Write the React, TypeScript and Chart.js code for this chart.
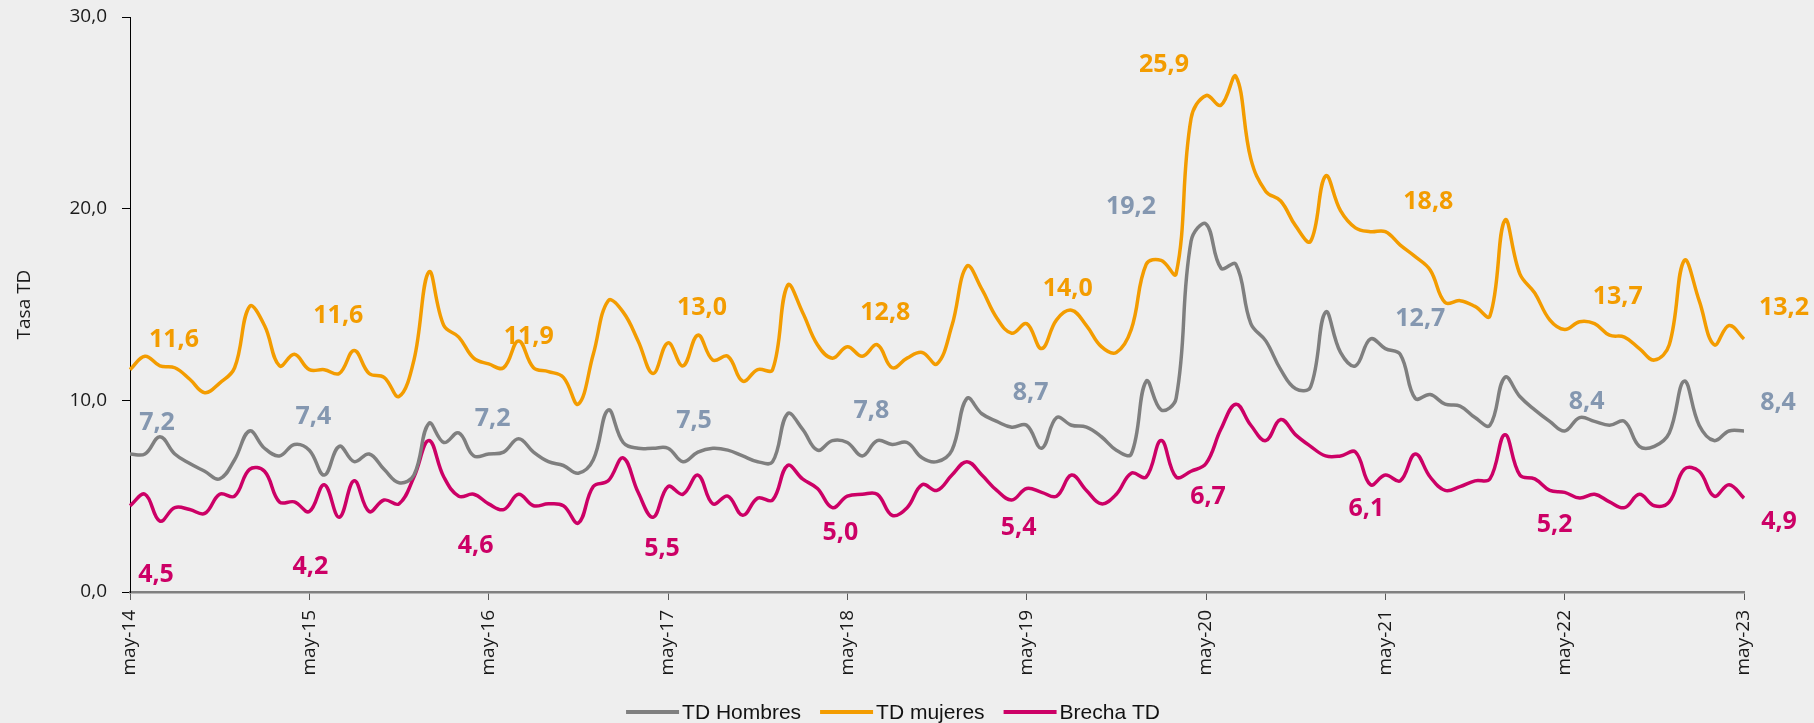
import React, { useEffect, useRef } from "react";
import { Chart, registerables } from "chart.js";

Chart.register(...registerables);

// ---------- data ----------
const MONTH_NAMES = ["ene", "feb", "mar", "abr", "may", "jun", "jul", "ago", "sep", "oct", "nov", "dic"];
const FIRST_YEAR = 2014;
const FIRST_MONTH_INDEX = 4; // may
const N_MONTHS = 109; // may-14 .. may-23

const CATEGORIES: string[] = Array.from({ length: N_MONTHS }, (_, i) => {
  const m = (FIRST_MONTH_INDEX + i) % 12;
  const y = FIRST_YEAR + Math.floor((FIRST_MONTH_INDEX + i) / 12);
  return `${MONTH_NAMES[m]}-${String(y).slice(2)}`;
});

const TD_HOMBRES = [
  7.2, 7.2, 8.1, 7.2, 6.7, 6.3, 5.9, 6.9, 8.4, 7.5, 7.1, 7.7,
  7.4, 6.1, 7.6, 6.8, 7.2, 6.4, 5.7, 6.1, 8.8, 7.8, 8.3, 7.1,
  7.2, 7.3, 8.0, 7.3, 6.8, 6.6, 6.2, 6.9, 9.5, 7.8, 7.5, 7.5,
  7.5, 6.8, 7.3, 7.5, 7.4, 7.1, 6.8, 6.8, 9.3, 8.5, 7.4, 7.9,
  7.8, 7.1, 7.9, 7.7, 7.8, 7.0, 6.8, 7.4, 10.1, 9.3, 8.9, 8.6,
  8.7, 7.5, 9.1, 8.7, 8.6, 8.1, 7.4, 7.2, 11.0, 9.5, 10.1, 18.3,
  19.2, 16.9, 17.1, 14.0, 13.1, 11.6, 10.6, 10.7, 14.6, 12.5, 11.8, 13.2,
  12.7, 12.4, 10.1, 10.3, 9.8, 9.7, 9.1, 8.7, 11.2, 10.2, 9.5, 8.9,
  8.4, 9.1, 8.9, 8.7, 8.9, 7.6, 7.6, 8.3, 11.0, 8.7, 7.9, 8.4,
  8.4,
];

const TD_MUJERES = [
  11.6, 12.3, 11.8, 11.7, 11.1, 10.4, 10.9, 11.7, 14.9, 13.9, 11.8, 12.4,
  11.6, 11.6, 11.4, 12.6, 11.4, 11.2, 10.2, 12.1, 16.7, 13.9, 13.3, 12.2,
  11.9, 11.7, 13.1, 11.7, 11.5, 11.2, 9.8, 12.4, 15.2, 14.6, 13.1, 11.4,
  13.0, 11.8, 13.4, 12.1, 12.3, 11.0, 11.6, 11.6, 16.0, 14.6, 12.9, 12.2,
  12.8, 12.3, 12.9, 11.7, 12.2, 12.5, 11.9, 13.9, 17.0, 15.8, 14.3, 13.5,
  14.0, 12.7, 14.2, 14.7, 13.9, 12.8, 12.5, 13.7, 17.1, 17.3, 16.6, 24.7,
  25.9, 25.4, 26.9, 22.6, 20.9, 20.4, 19.1, 18.3, 21.7, 19.9, 19.0, 18.8,
  18.8, 18.1, 17.5, 16.8, 15.1, 15.2, 14.9, 14.4, 19.4, 16.6, 15.6, 14.2,
  13.7, 14.1, 14.0, 13.4, 13.3, 12.7, 12.1, 12.9, 17.3, 15.2, 12.9, 13.9,
  13.2,
];

const BRECHA_TD = [
  4.5, 5.1, 3.7, 4.4, 4.3, 4.1, 5.1, 5.0, 6.4, 6.3, 4.7, 4.7,
  4.2, 5.6, 3.9, 5.8, 4.2, 4.8, 4.6, 6.0, 7.9, 6.0, 5.0, 5.1,
  4.6, 4.3, 5.1, 4.5, 4.6, 4.5, 3.6, 5.5, 5.8, 7.0, 5.2, 3.9,
  5.5, 5.1, 6.1, 4.6, 5.0, 4.0, 4.9, 4.8, 6.6, 5.9, 5.4, 4.4,
  5.0, 5.1, 5.1, 4.0, 4.4, 5.6, 5.3, 6.1, 6.8, 6.1, 5.3, 4.8,
  5.4, 5.2, 5.0, 6.1, 5.3, 4.6, 5.1, 6.2, 6.0, 7.9, 6.0, 6.3,
  6.7, 8.5, 9.8, 8.7, 7.9, 9.0, 8.2, 7.6, 7.1, 7.1, 7.3, 5.6,
  6.1, 5.8, 7.2, 6.0, 5.3, 5.5, 5.8, 5.9, 8.2, 6.1, 5.9, 5.3,
  5.2, 4.9, 5.1, 4.7, 4.4, 5.1, 4.5, 4.7, 6.4, 6.3, 5.0, 5.6,
  4.9,
];

const Y_TICKS = [0, 10, 20, 30];
const LABELED_INDEXES = [0, 12, 24, 36, 48, 60, 72, 84, 96, 108];

// ---------- styling ----------
const COLOR_HOMBRES = "#7F7F7F";
const COLOR_MUJERES = "#F39C00";
const COLOR_BRECHA = "#CC0066";
const LABEL_COLORS = ["#8497B0", "#F39C00", "#CC0066"];
const BG = "#EEEEEE";

// pixel offsets of the value labels from their points (dx, dy)
const LABEL_OFFSETS: number[][][] = [
  [[27, -31], [4, -33], [4, -35], [26, -27], [24, -32], [4, -32], [-75, -17], [35, -30], [22, -29], [34, -28]],
  [[44, -30], [29, -54], [40, -27], [34, -35], [38, -34], [41, -35], [-42, -31], [43, -30], [53, -33], [40, -31]],
  [[26, 69], [1, 55], [-13, 42], [-6, 62], [-7, 37], [-8, 39], [2, 33], [-19, 34], [-10, 33], [35, 24]],
];

const fmt = (v: number) => v.toFixed(1).replace(".", ",");

const bgPlugin = {
  id: "bg",
  beforeDraw(chart: any) {
    const { ctx, width, height } = chart;
    ctx.save();
    ctx.fillStyle = BG;
    ctx.fillRect(0, 0, width, height);
    ctx.restore();
  },
};

const valueLabelPlugin = {
  id: "valueLabels",
  afterDatasetsDraw(chart: any) {
    const { ctx } = chart;
    ctx.save();
    ctx.font = "bold 25px 'Open Sans'";
    ctx.textAlign = "center";
    ctx.textBaseline = "middle";
    chart.data.datasets.forEach((ds: any, di: number) => {
      const meta = chart.getDatasetMeta(di);
      ctx.fillStyle = LABEL_COLORS[di];
      LABELED_INDEXES.forEach((idx, k) => {
        const pt = meta.data[idx];
        if (!pt) return;
        const [dx, dy] = LABEL_OFFSETS[di][k];
        ctx.fillText(fmt(ds.data[idx]), pt.x + dx, pt.y + dy);
      });
    });
    ctx.restore();
  },
};

const LEGEND_CENTER_X = 893;
const LEGEND_Y = 712;

const legendPlugin = {
  id: "customLegend",
  afterDraw(chart: any) {
    const { ctx } = chart;
    ctx.save();
    ctx.font = "21px 'Liberation Sans'";
    ctx.textBaseline = "middle";
    ctx.textAlign = "left";
    const lineW = 53;
    const gapText = 3;
    const gapItem = 19;
    const items = chart.data.datasets.map((d: any) => ({
      text: d.label,
      color: d.borderColor,
      w: ctx.measureText(d.label).width,
    }));
    const total =
      items.reduce((s: number, it: any) => s + lineW + gapText + it.w, 0) + gapItem * (items.length - 1);
    let x = LEGEND_CENTER_X - total / 2;
    items.forEach((it: any) => {
      ctx.strokeStyle = it.color;
      ctx.lineWidth = 4;
      ctx.beginPath();
      ctx.moveTo(x, LEGEND_Y);
      ctx.lineTo(x + lineW, LEGEND_Y);
      ctx.stroke();
      x += lineW + gapText;
      ctx.fillStyle = "#111";
      ctx.fillText(it.text, x, LEGEND_Y + 1);
      x += it.w + gapItem;
    });
    ctx.restore();
  },
};

export default function App() {
  const canvasRef = useRef<HTMLCanvasElement | null>(null);

  useEffect(() => {
    document.body.style.margin = "0";
    document.body.style.background = BG;
    const canvas = canvasRef.current;
    if (!canvas) return;

    const lineDs = (label: string, data: number[], color: string) => ({
      label,
      data,
      borderColor: color,
      backgroundColor: color,
      borderWidth: 3.5,
      pointRadius: 0,
      pointHoverRadius: 0,
      tension: 0.4,
      fill: false,
    });

    const chart = new Chart(canvas, {
      type: "line",
      data: {
        labels: CATEGORIES,
        datasets: [
          lineDs("TD Hombres", TD_HOMBRES, COLOR_HOMBRES),
          lineDs("TD mujeres", TD_MUJERES, COLOR_MUJERES),
          lineDs("Brecha TD", BRECHA_TD, COLOR_BRECHA),
        ],
      },
      options: {
        responsive: false,
        devicePixelRatio: 1,
        animation: false,
        events: [],
        layout: { padding: { left: 0, right: 70, top: 17, bottom: 0 } },
        plugins: {
          legend: { display: false },
          tooltip: { enabled: false },
        },
        scales: {
          x: {
            type: "category",
            offset: false,
            afterBuildTicks: (axis: any) => {
              axis.ticks = axis.ticks.filter((t: any) => t.value % 12 === 0);
            },
            afterFit: (scale: any) => {
              scale.height = 131;
            },
            ticks: {
              autoSkip: false,
              minRotation: 90,
              maxRotation: 90,
              padding: 10,
              color: "#1a1a1a",
              font: { family: "'Open Sans'", size: 19 },
            },
            grid: {
              display: true,
              drawOnChartArea: false,
              drawTicks: true,
              tickLength: 8,
              tickColor: "#595959",
              tickWidth: 1,
            },
            border: { display: true, color: "#808080", width: 2.5 },
          },
          y: {
            min: 0,
            max: 30,
            afterBuildTicks: (axis: any) => {
              axis.ticks = Y_TICKS.map((v) => ({ value: v }));
            },
            afterFit: (scale: any) => {
              scale.width = 130;
              scale.paddingTop = 0;
              scale.paddingBottom = 0;
            },
            ticks: {
              padding: 15,
              color: "#1a1a1a",
              font: { family: "'Open Sans'", size: 19 },
              callback: (v: any) => fmt(Number(v)),
            },
            grid: {
              display: true,
              drawOnChartArea: false,
              drawTicks: true,
              tickLength: 8,
              tickColor: "#000",
              tickWidth: 1,
            },
            border: { display: true, color: "#000", width: 1 },
            title: {
              display: true,
              text: "Tasa TD",
              color: "#1a1a1a",
              font: { family: "'Open Sans'", size: 19 },
              padding: { top: 13, bottom: 0 },
            },
          },
        },
      },
      plugins: [bgPlugin, valueLabelPlugin, legendPlugin],
    });

    return () => chart.destroy();
  }, []);

  return (
    <div style={{ width: 1814, height: 723 }}>
      <canvas ref={canvasRef} width={1814} height={723} style={{ display: "block" }} />
    </div>
  );
}
